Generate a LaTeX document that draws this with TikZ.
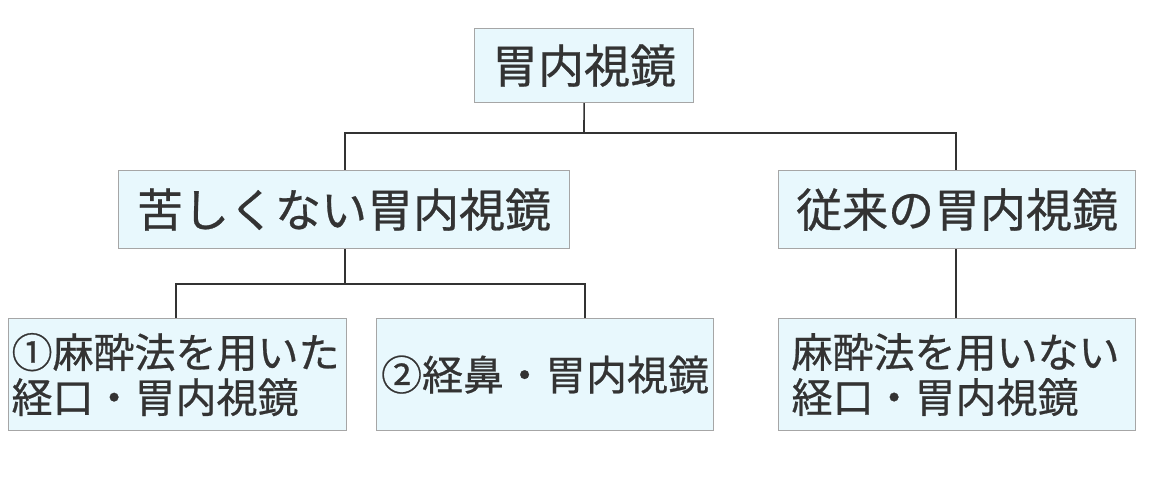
\documentclass[tikz,border=0pt]{standalone}
\usepackage{fontspec}
\setmainfont{Noto Sans CJK JP}[FakeBold=0.6]
\definecolor{boxfill}{HTML}{E8F8FD}
\definecolor{boxline}{HTML}{A6A6A6}
\definecolor{txt}{HTML}{333333}
\tikzset{
  box/.style={draw=boxline, line width=1.2pt, fill=boxfill, text=txt, inner sep=0pt, anchor=north west, font=\fontsize{46}{50}\selectfont},
  sbox/.style={box, font=\fontsize{41}{45}\selectfont, align=left},
  conn/.style={draw=txt, line width=1.6pt}
}
\begin{document}
\begin{tikzpicture}[x=1pt,y=-1pt]
\useasboundingbox (0,0) rectangle (1170,500);
\node[box, minimum width=219pt, minimum height=74pt] (top) at (474,28) {胃内視鏡};
\node[box, minimum width=451pt, minimum height=78pt] (a) at (118,170) {苦しくない胃内視鏡};
\node[box, minimum width=357pt, minimum height=78pt] (b) at (778,170) {従来の胃内視鏡};
\node[sbox, minimum width=338pt, minimum height=112pt, text width=332pt] (a1) at (8,318) {①麻酔法を用いた\\経口・胃内視鏡};
\node[sbox, minimum width=337pt, minimum height=112pt] (a2) at (376,318) {②経鼻・胃内視鏡};
\node[sbox, minimum width=357pt, minimum height=112pt, text width=331pt] (b1) at (778,318) {麻酔法を用いない\\経口・胃内視鏡};
\coordinate (j1) at (584,133);
\coordinate (j2) at (345,284);
\draw[conn] (top.south) -- (j1);
\draw[conn] (j1) -| (a.north -| 345,0);
\draw[conn] (j1) -| (b.north -| 956,0);
\draw[conn] (a.south -| 345,0) -- (j2);
\draw[conn] (j2) -| (a1.north -| 176,0);
\draw[conn] (j2) -| (a2.north -| 585,0);
\draw[conn] (b.south -| 956,0) -- (b1.north -| 956,0);
\end{tikzpicture}
\end{document}
